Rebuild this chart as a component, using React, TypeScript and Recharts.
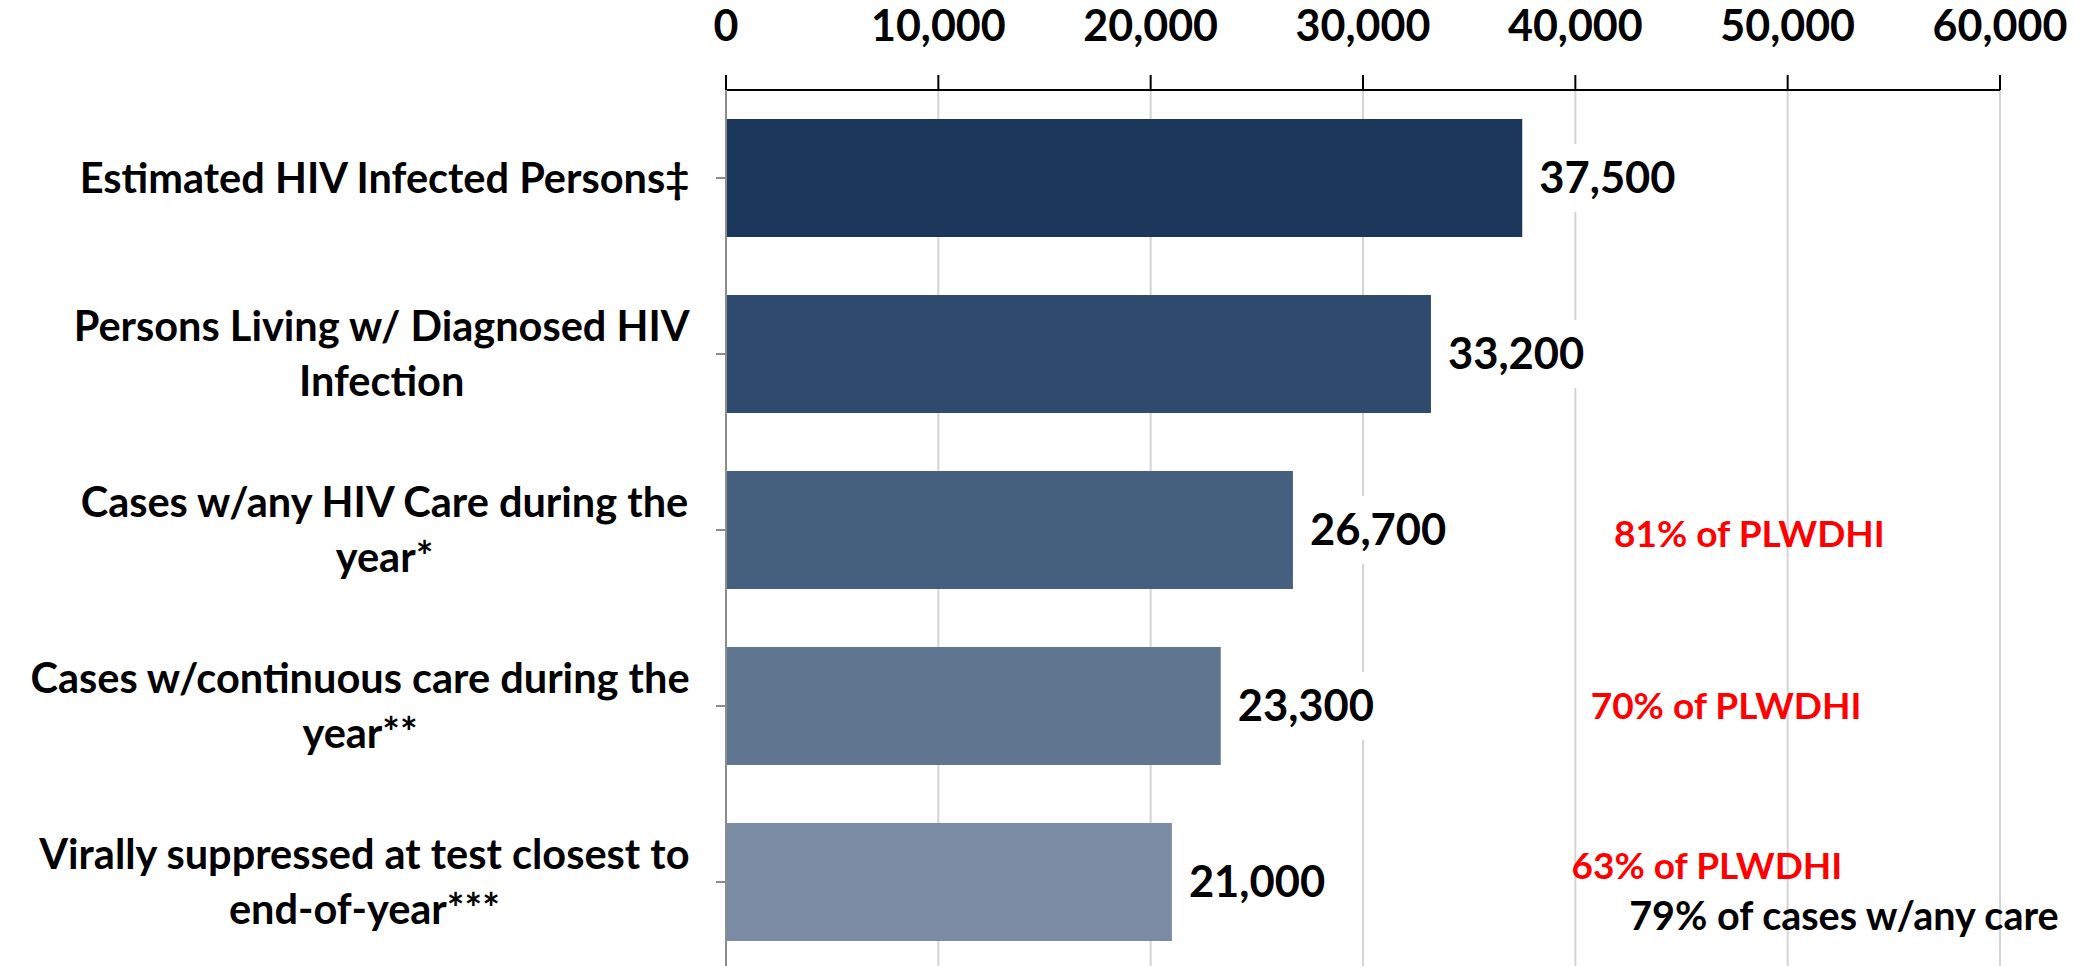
import React from "react";
import { BarChart, Bar, XAxis, YAxis, CartesianGrid, Cell, LabelList, ReferenceDot } from "recharts";

if (typeof document !== "undefined") document.body.style.margin = "0";

const categories = [
  "Estimated HIV Infected Persons‡",
  "Persons Living w/ Diagnosed HIV\nInfection",
  "Cases w/any HIV Care during the\nyear*",
  "Cases w/continuous care during the\nyear**",
  "Virally suppressed at test closest to\nend-of-year***",
];
const values = [37500, 33200, 26700, 23300, 21000];
const barColors = ["#1b375c", "#2e4a6c", "#44607e", "#5f7590", "#7a8ba3"];
const xTicks = [0, 10000, 20000, 30000, 40000, 50000, 60000];

const annoText = ["81% of PLWDHI", "70% of PLWDHI", "63% of PLWDHI", "79% of cases w/any care"];
const annoCategory = [2, 3, 4, 4];
const annoX = [48200, 47100, 46200, 52650];
const annoColor = ["#ff0000", "#ff0000", "#ff0000", "#000000"];
const annoDy = [4, 0, -16, 34];
const annoSize = [37, 37, 37, 39.5];

const data = categories.map((name, i) => ({ name, value: values[i] }));

const FONT = "Lato, 'Open Sans', sans-serif";
const CAT_FS = 41.5;
const TICK_FS = 43;
const VAL_FS = 43.5;

let ctx: CanvasRenderingContext2D | null = null;
function measure(t: string, size: number) {
  if (!ctx) ctx = document.createElement("canvas").getContext("2d");
  if (!ctx) return t.length * size * 0.5;
  ctx.font = `bold ${size}px Lato`;
  return ctx.measureText(t).width;
}

const fmt = (v: number) => v.toLocaleString("en-US");

const XTick = (props: any) => {
  const { x, y, payload } = props;
  return (
    <text x={x} y={y} textAnchor="middle" fontFamily={FONT} fontWeight="bold" fontSize={TICK_FS} fill="#000">
      {fmt(payload.value)}
    </text>
  );
};

const YTick = (props: any) => {
  const { x, y, payload } = props;
  const lines: string[] = String(payload.value).split("\n");
  const maxW = Math.max(...lines.map((l) => measure(l, CAT_FS)));
  const cx = x - maxW / 2;
  const lh = 55;
  const start = y - ((lines.length - 1) * lh) / 2 + CAT_FS * 0.35;
  return (
    <g>
      {lines.map((l, i) => (
        <text key={i} x={cx} y={start + i * lh} textAnchor="middle" fontFamily={FONT} fontWeight="bold" fontSize={CAT_FS} fill="#000">
          {l}
        </text>
      ))}
    </g>
  );
};

const ValueLabel = (props: any) => {
  const { x, y, width, height, value } = props;
  const tx = x + width + 17;
  const cy = y + height / 2;
  const w = measure(fmt(value), VAL_FS);
  return (
    <g>
      <rect x={x + width + 8} y={cy - 34} width={w + 18} height={68} fill="#fff" />
      <text x={tx} y={cy + VAL_FS * 0.35} fontFamily={FONT} fontWeight="bold" fontSize={VAL_FS} fill="#000">
        {fmt(value)}
      </text>
    </g>
  );
};

export default function App() {
  return (
    <div style={{ width: 2080, height: 966, overflow: "hidden", background: "#fff" }}>
      <BarChart
        width={2080}
        height={970}
        data={data}
        layout="vertical"
        margin={{ top: 0, right: 80, left: 0, bottom: 0 }}
      >
        <CartesianGrid horizontal={false} stroke="#d4d4d4" strokeWidth={2} />
        <XAxis
          type="number"
          orientation="top"
          domain={[0, 60000]}
          ticks={xTicks}
          height={90}
          tickSize={15}
          tickMargin={34}
          axisLine={{ stroke: "#000", strokeWidth: 2 }}
          tickLine={{ stroke: "#000", strokeWidth: 2 }}
          tick={<XTick />}
          interval={0}
        />
        <YAxis
          type="category"
          dataKey="name"
          width={726}
          tickSize={10}
          tickMargin={26}
          axisLine={{ stroke: "#8c8c8c", strokeWidth: 2 }}
          tickLine={{ stroke: "#8c8c8c", strokeWidth: 2 }}
          tick={<YTick />}
          interval={0}
        />
        <Bar dataKey="value" barSize={118} isAnimationActive={false}>
          {data.map((d, i) => (
            <Cell key={i} fill={barColors[i]} />
          ))}
          <LabelList dataKey="value" content={<ValueLabel />} />
        </Bar>
        {annoText.map((t, i) => (
          <ReferenceDot
            key={i}
            x={annoX[i]}
            y={categories[annoCategory[i]]}
            r={0}
            ifOverflow="visible"
            shape={(p: any) => (
              <text
                x={p.cx}
                y={p.cy + annoDy[i] + annoSize[i] * 0.35}
                textAnchor="middle"
                fontFamily={FONT}
                fontWeight="bold"
                fontSize={annoSize[i]}
                fill={annoColor[i]}
              >
                {t}
              </text>
            )}
          />
        ))}
      </BarChart>
    </div>
  );
}
